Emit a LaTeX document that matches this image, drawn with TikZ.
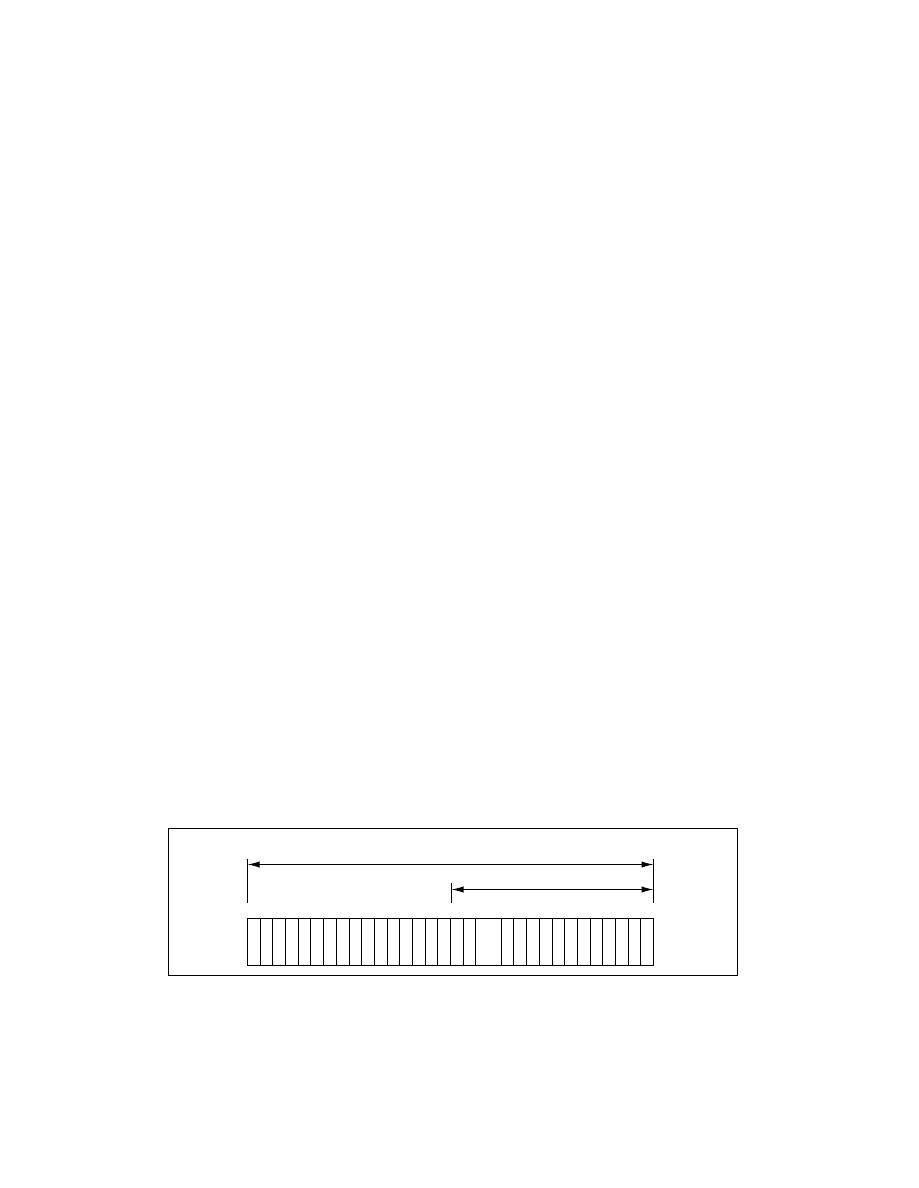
\documentclass[tikz,border=0pt]{standalone}
\usetikzlibrary{arrows.meta,calc}
\begin{document}
\begin{tikzpicture}[x=0.6667pt,y=-0.6667pt,
  line/.style={line width=0.7pt,black},
  dim/.style={line width=0.7pt,black,{Latex[length=8pt,width=4.2pt]}-{Latex[length=8pt,width=4.2pt]}},
  frame/.style={line width=0.7pt,black}]
\useasboundingbox (0,0) rectangle (918,1188);
% outer frame
\draw[frame] (168.5,828.5) rectangle (737.5,975.5);
% bar of cells
\def\cw{12.6875}
\coordinate (barL) at (247.5,918.5);
\coordinate (barR) at (653.5,965.5);
\draw[line] (barL) rectangle (barR);
\foreach \k in {1,...,31}{
  \ifnum\k=19\relax\else
    \pgfmathsetmacro{\xx}{floor(247.5+\k*\cw)+0.5}
    \draw[line] (\xx,918.5) -- (\xx,965.5);
  \fi
}
% ticks
\coordinate (t1a) at (247.5,858.5);
\coordinate (t1b) at (247.5,902.5);
\coordinate (t2a) at (653.5,858.5);
\coordinate (t2b) at (653.5,902.5);
\coordinate (t3a) at (451.5,882.5);
\coordinate (t3b) at (451.5,902.5);
\draw[line] (t1a) -- (t1b);
\draw[line] (t2a) -- (t2b);
\draw[line] (t3a) -- (t3b);
% dimension arrows
\coordinate (a1l) at (247.5,864.5);
\coordinate (a1r) at (653.5,864.5);
\coordinate (a2l) at (451.5,889.5);
\coordinate (a2r) at (653.5,889.5);
\draw[dim] (a1l) -- (a1r);
\draw[dim] (a2l) -- (a2r);
\end{tikzpicture}
\end{document}
